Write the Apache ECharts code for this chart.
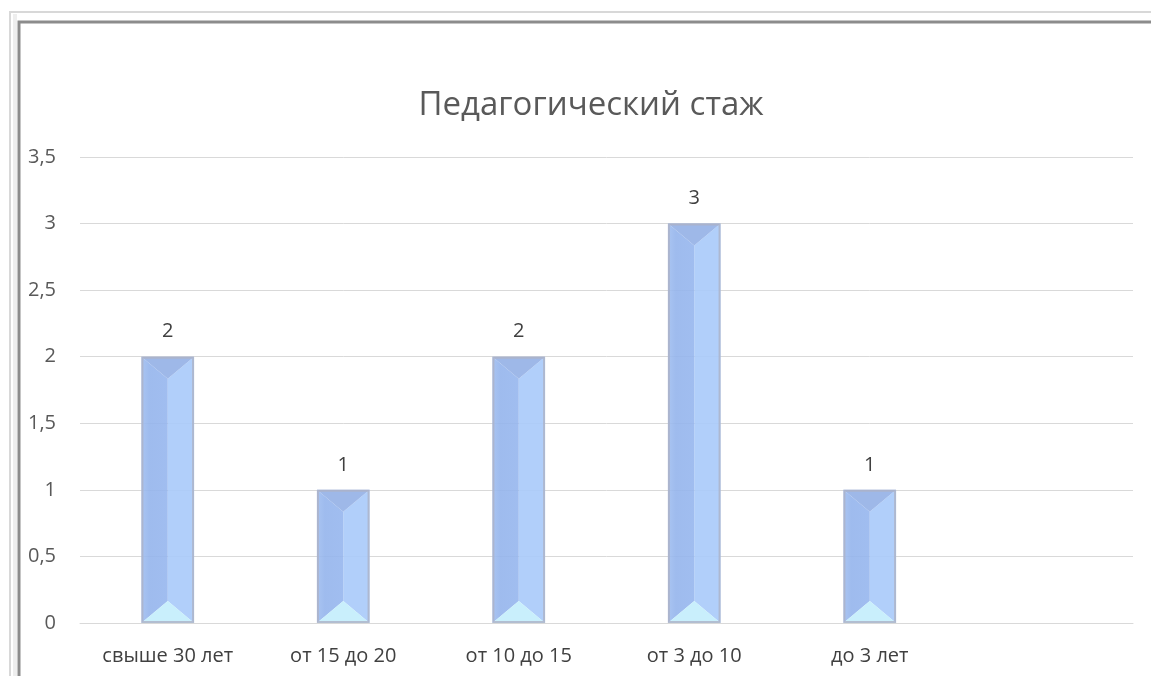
<!DOCTYPE html>
<html><head><meta charset="utf-8">
<script src="https://cdn.jsdelivr.net/npm/echarts@6/dist/echarts.min.js"></script>
<style>html,body{margin:0;padding:0;background:#fff}#c{width:1151px;height:676px}</style>
</head><body><div id="c"></div>
<script>
const titleText = 'Педагогический стаж';
const categories = ['свыше 30 лет', 'от 15 до 20', 'от 10 до 15', 'от 3 до 10', 'до 3 лет', ''];
const values = [2, 1, 2, 3, 1, null];
const yTicks = { min: 0, max: 3.5, interval: 0.5 };

const FONT = '"Open Sans", "Noto Sans", sans-serif';
const chart = echarts.init(document.getElementById('c'), null, { renderer: 'canvas' });

function renderItem(params, api) {
  const v = api.value(1);
  if (v == null || isNaN(v)) return;
  const top = api.coord([api.value(0), v]);
  const base = api.coord([api.value(0), 0]);
  const bw = api.size([1, 0])[0] * 0.3;
  const cx = top[0], x0 = cx - bw / 2, x1 = cx + bw / 2, y0 = top[1], y1 = base[1];
  const d = 22, bd = 22;
  return {
    type: 'group',
    children: [
      { type: 'polygon', shape: { points: [[x1, y0], [cx, y0 + d], [cx, y1 - bd], [x1, y1]] },
        style: { fill: 'rgba(168,202,250,0.9)' } },
      { type: 'polygon', shape: { points: [[x0, y0], [cx, y0 + d], [cx, y1 - bd], [x0, y1]] },
        style: {
          fill: new echarts.graphic.LinearGradient(0, 0, 1, 0, [
            { offset: 0, color: 'rgba(160,190,240,0.9)' },
            { offset: 0.3, color: 'rgba(148,180,236,0.9)' },
            { offset: 1, color: 'rgba(150,182,238,0.9)' }
          ])
        } },
      { type: 'polygon', shape: { points: [[x0, y0], [x1, y0], [cx, y0 + d]] },
        style: { fill: 'rgba(148,176,230,0.9)' } },
      { type: 'polygon', shape: { points: [[x0, y1], [x1, y1], [cx, y1 - bd]] },
        style: { fill: 'rgba(198,238,252,0.95)' } },
      { type: 'rect', shape: { x: x0 + 1, y: y0 + 1, width: bw - 2, height: y1 - y0 - 2 },
        style: { fill: null, stroke: 'rgba(172,178,198,0.8)', lineWidth: 2 } },
      { type: 'text', style: { text: String(v), x: cx, y: y0 - 25, align: 'center', verticalAlign: 'middle',
        fill: '#404040', font: '20px ' + FONT } }
    ]
  };
}

chart.setOption({
  backgroundColor: '#fff',
  animation: false,
  title: {
    text: titleText, left: 586, top: 84, textAlign: 'center',
    textStyle: { fontFamily: FONT, fontSize: 33, fontWeight: 'normal', color: '#595959' }
  },
  graphic: [
    { type: 'rect', shape: { x: 10, y: 12, width: 1145, height: 700 }, style: { fill: null, stroke: '#d8d8d8', lineWidth: 2 }, silent: true },
    { type: 'rect', shape: { x: 19, y: 22, width: 1140, height: 700 }, style: { fill: null, stroke: '#8c8c8c', lineWidth: 3 }, silent: true },
    { type: 'line', shape: { x1: 15, y1: 14, x2: 15, y2: 676 }, style: { stroke: '#eeeeee', lineWidth: 4 }, silent: true }
  ],
  grid: { left: 80, right: 18, top: 157, bottom: 53, containLabel: false },
  xAxis: {
    type: 'category', data: categories,
    axisLine: { lineStyle: { color: '#d9d9d9' } },
    axisTick: { show: false },
    axisLabel: { interval: 0, margin: 23, fontFamily: FONT, fontSize: 20, color: '#404040' }
  },
  yAxis: {
    type: 'value', min: yTicks.min, max: yTicks.max, interval: yTicks.interval,
    axisLine: { show: false }, axisTick: { show: false },
    splitLine: { lineStyle: { color: '#d9d9d9' } },
    axisLabel: { margin: 24, fontFamily: FONT, fontSize: 20, color: '#595959',
      formatter: v => String(v).replace('.', ',') }
  },
  series: [{
    type: 'custom', renderItem: renderItem,
    encode: { x: 0, y: 1 },
    data: categories.map((c, i) => [i, values[i]]),
    z: 3
  }]
});
</script></body></html>
